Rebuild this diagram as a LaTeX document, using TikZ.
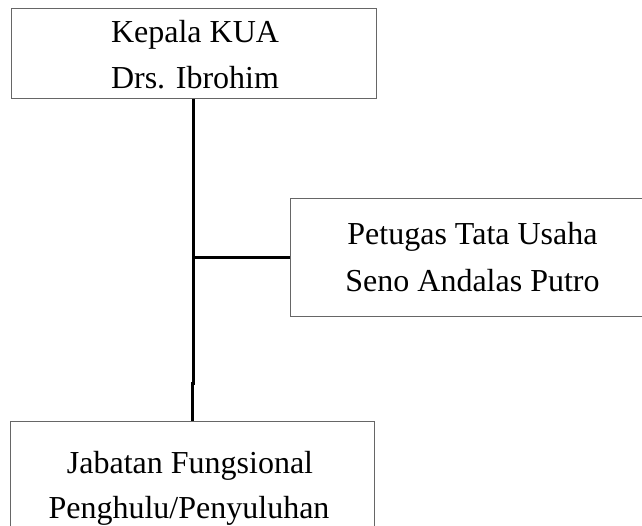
\documentclass[tikz,border=0pt]{standalone}
\usepackage{fontspec}
\setmainfont{Liberation Serif}
\begin{document}
\begin{tikzpicture}[x=1pt,y=1pt,
  box/.style={draw=black!60,line width=1pt,rectangle,inner sep=0pt},
  conn/.style={draw=black,line width=3pt},
  lbl/.style={font=\fontsize{32}{46}\selectfont,anchor=base,inner sep=0pt}]
\useasboundingbox (0,0) rectangle (642,525);
\clip (0,0) rectangle (642,525);
% boxes
\node[box,minimum width=365pt,minimum height=90pt] (kepala) at (193.5,471) {};
\node[box,minimum width=365pt,minimum height=118pt] (petugas) at (473,267) {};
\node[box,minimum width=364pt,minimum height=109pt] (fungsional) at (192,49.5) {};
% texts
\node[lbl] (t1) at (195,482) {Kepala KUA};
\node[lbl] (t2) at (195,436) {Drs. Ibrohim};
\node[lbl] (t3) at (472.5,280) {Petugas Tata Usaha};
\node[lbl] (t4) at (472.5,233.5) {Seno Andalas Putro};
\node[lbl] (t5) at (190,52) {Jabatan Fungsional};
\node[lbl] (t6) at (189,7) {Penghulu/Penyuluhan};
% connectors
\coordinate (jog) at (192,142);
\draw[conn] (kepala.south) |- (jog) -- (fungsional.north);
\draw[conn] (petugas.west -| kepala.south) -- (petugas.west);
\end{tikzpicture}
\end{document}
